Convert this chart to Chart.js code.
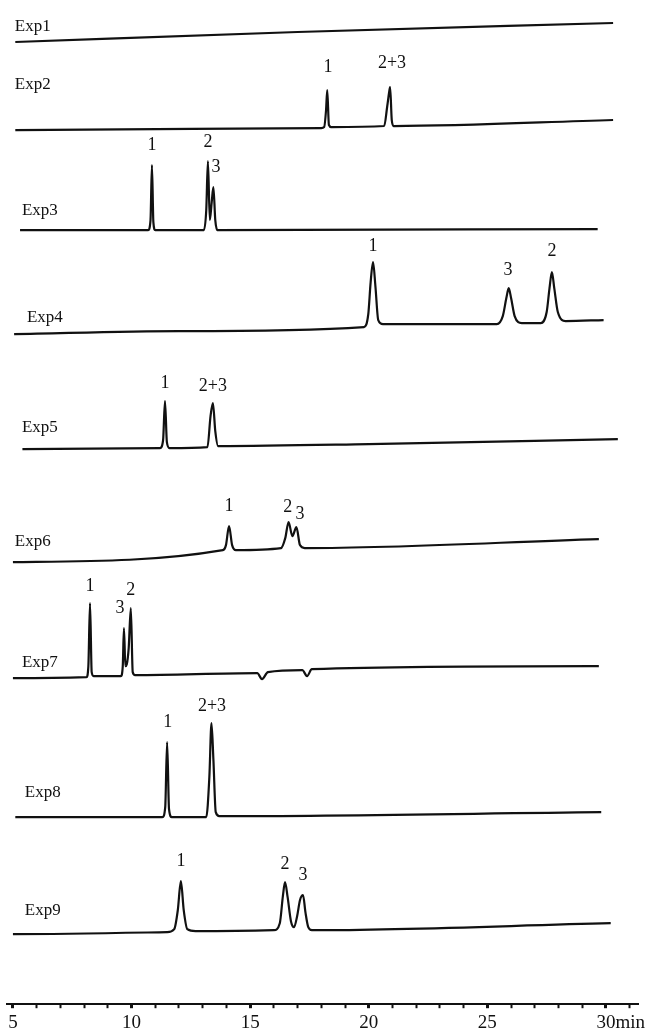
<!DOCTYPE html>
<html>
<head>
<meta charset="utf-8">
<script src="https://cdn.jsdelivr.net/npm/chart.js@4"></script>
<style>
  html, body { margin: 0; padding: 0; background: #fff; }
  canvas { display: block; }
</style>
</head>
<body>
<canvas id="myChart" width="646" height="1032"></canvas>
<script>
// retention time (min) vs detector signal, one trace per experiment
const exp1Time = [5.1, 17.0, 30.3];
const exp1Signal = [0, 10, 19];
const exp1Labels = [];

const exp2Time = [5.1, 18.0, 18.12, 18.2, 18.25, 18.32, 18.42, 20.65, 20.78, 20.86, 20.9, 20.97, 21.05, 30.3];
const exp2Signal = [0, 2, 3, 20, 40, 5, 3, 4, 24, 38, 43, 10, 4, 10];
const exp2Labels = [[18.28, 63, "1"], [20.98, 67, "2+3"]];

const exp3Time = [5.3, 10.7, 10.8, 10.86, 10.92, 11.0, 13.05, 13.15, 13.22, 13.3, 13.38, 13.45, 13.53, 13.62, 29.65];
const exp3Signal = [0, 0, 10, 65, 8, 0, 0, 20, 69, 10, 28, 43, 10, 0, 1];
const exp3Labels = [[10.86, 85, "1"], [13.22, 88, "2"], [13.56, 63, "3"]];

const exp4Time = [5.05, 12, 19.8, 19.98, 20.08, 20.18, 20.28, 20.4, 20.6, 25.4, 25.65, 25.8, 25.9, 26.0, 26.15, 26.45, 27.25, 27.5, 27.62, 27.72, 27.82, 27.97, 28.3, 29.9];
const exp4Signal = [0, 3, 7, 20, 52, 72, 48, 14, 10, 10, 18, 36, 46, 36, 18, 11, 11, 22, 46, 62, 46, 22, 13, 14];
const exp4Labels = [[20.18, 88, "1"], [25.87, 64, "3"], [27.72, 83, "2"]];

const exp5Time = [5.4, 11.2, 11.33, 11.41, 11.49, 11.6, 13.2, 13.33, 13.43, 13.53, 13.65, 20, 30.5];
const exp5Signal = [0, 1, 9, 48, 7, 1, 2, 33, 46, 18, 3, 5, 10];
const exp5Labels = [[11.41, 66, "1"], [13.43, 63, "2+3"]];

const exp6Time = [5.0, 13.85, 13.98, 14.11, 14.24, 14.4, 16.3, 16.48, 16.62, 16.78, 16.95, 17.1, 17.3, 29.7];
const exp6Signal = [0, 12, 17, 36, 17, 12, 14, 24, 40, 26, 35, 17, 14, 23];
const exp6Labels = [[14.11, 56, "1"], [16.59, 55, "2"], [17.1, 48, "3"]];

const exp7Time = [5.0, 8.1, 8.18, 8.25, 8.32, 8.4, 9.55, 9.63, 9.68, 9.74, 9.8, 9.88, 9.97, 10.05, 10.15, 15.3, 15.5, 15.75, 17.2, 17.4, 17.6, 29.7];
const exp7Signal = [0, 1, 12, 75, 6, 2, 2, 12, 50, 12, 14, 30, 70, 6, 3, 5, -1, 6, 8, 2, 9, 12];
const exp7Labels = [[8.25, 92, "1"], [9.51, 70, "3"], [9.97, 88, "2"]];

const exp8Time = [5.1, 11.3, 11.42, 11.5, 11.58, 11.7, 13.15, 13.28, 13.37, 13.45, 13.55, 13.7, 29.8];
const exp8Signal = [0, 0, 10, 75, 8, 0, 0, 40, 94, 58, 5, 1, 5];
const exp8Labels = [[11.53, 95, "1"], [13.39, 111, "2+3"]];

const exp9Time = [5.0, 11.5, 11.8, 11.95, 12.08, 12.2, 12.35, 12.7, 16.0, 16.25, 16.38, 16.47, 16.58, 16.72, 16.85, 16.98, 17.1, 17.23, 17.33, 17.45, 17.6, 30.2];
const exp9Signal = [0, 2, 5, 24, 53, 24, 5, 3, 4, 11, 38, 52, 37, 13, 7, 18, 34, 39, 22, 7, 4, 11];
const exp9Labels = [[12.08, 73, "1"], [16.47, 70, "2"], [17.23, 59, "3"]];

const expNames = ["Exp1", "Exp2", "Exp3", "Exp4", "Exp5", "Exp6", "Exp7", "Exp8", "Exp9"];
const majorTicks = [5, 10, 15, 20, 25, 30];

// layout: baseline of each trace (px above the time axis) and where its name sits
const traceOffsets = [962, 874, 774, 670, 555, 442, 326, 187, 70];
const expLabelTime = [5.08, 5.08, 5.38, 5.59, 5.38, 5.08, 5.38, 5.5, 5.5];
const expLabelRise = [15, 45, 20, 17, 22, 21, 16, 25, 24];

const times = [exp1Time, exp2Time, exp3Time, exp4Time, exp5Time, exp6Time, exp7Time, exp8Time, exp9Time];
const signals = [exp1Signal, exp2Signal, exp3Signal, exp4Signal, exp5Signal, exp6Signal, exp7Signal, exp8Signal, exp9Signal];
const peakLabels = [exp1Labels, exp2Labels, exp3Labels, exp4Labels, exp5Labels, exp6Labels, exp7Labels, exp8Labels, exp9Labels];

const serif = "'Liberation Serif', 'Times New Roman', serif";

const datasets = expNames.map((name, i) => ({
  label: name,
  data: times[i].map((t, j) => ({ x: t, y: traceOffsets[i] + signals[i][j] })),
  borderColor: "#111",
  borderWidth: 2.2,
  pointRadius: 0,
  fill: false,
  cubicInterpolationMode: "monotone",
  clip: false,
}));

// names of the runs and the peak numbers
const textPlugin = {
  id: "traceText",
  afterDatasetsDraw(chart) {
    const { ctx } = chart;
    const xs = chart.scales.x;
    const ys = chart.scales.y;
    ctx.save();
    ctx.fillStyle = "#111";
    ctx.textBaseline = "middle";
    ctx.font = "17px " + serif;
    ctx.textAlign = "left";
    expNames.forEach((name, i) => {
      ctx.fillText(name, xs.getPixelForValue(expLabelTime[i]), ys.getPixelForValue(traceOffsets[i] + expLabelRise[i]));
    });
    ctx.font = "18px " + serif;
    ctx.textAlign = "center";
    peakLabels.forEach((labels, i) => {
      labels.forEach(([t, v, txt]) => {
        ctx.fillText(txt, xs.getPixelForValue(t), ys.getPixelForValue(traceOffsets[i] + v));
      });
    });
    // unit after the last tick label
    ctx.font = "19px " + serif;
    ctx.textAlign = "left";
    const w = ctx.measureText("30").width;
    const yLab = xs.top + 4 + 3 + 19 * 1.2 / 2;
    ctx.fillText("min", xs.getPixelForValue(30) + w / 2, yLab);
    ctx.restore();
  },
};

new Chart(document.getElementById("myChart").getContext("2d"), {
  type: "line",
  data: { datasets: datasets },
  options: {
    responsive: false,
    animation: false,
    devicePixelRatio: 1,
    layout: { padding: { left: 7, right: 8, top: 0, bottom: -5 } },
    plugins: {
      legend: { display: false },
      tooltip: { enabled: false },
    },
    scales: {
      x: {
        type: "linear",
        min: 4.75,
        max: 31.35,
        border: { display: true, color: "#111", width: 2 },
        grid: {
          drawOnChartArea: false,
          drawTicks: true,
          tickLength: 4,
          tickColor: "#111",
          tickWidth: (c) => (majorTicks.includes(c.tick && c.tick.value) ? 3 : 2),
        },
        ticks: {
          stepSize: 1,
          includeBounds: false,
          autoSkip: false,
          maxRotation: 0,
          padding: 3,
          color: "#111",
          font: { family: serif, size: 19 },
          callback: (v) => (majorTicks.includes(v) ? String(v) : ""),
        },
      },
      y: {
        display: false,
        min: 0,
        max: 1004,
      },
    },
  },
  plugins: [textPlugin],
});
</script>
</body>
</html>
